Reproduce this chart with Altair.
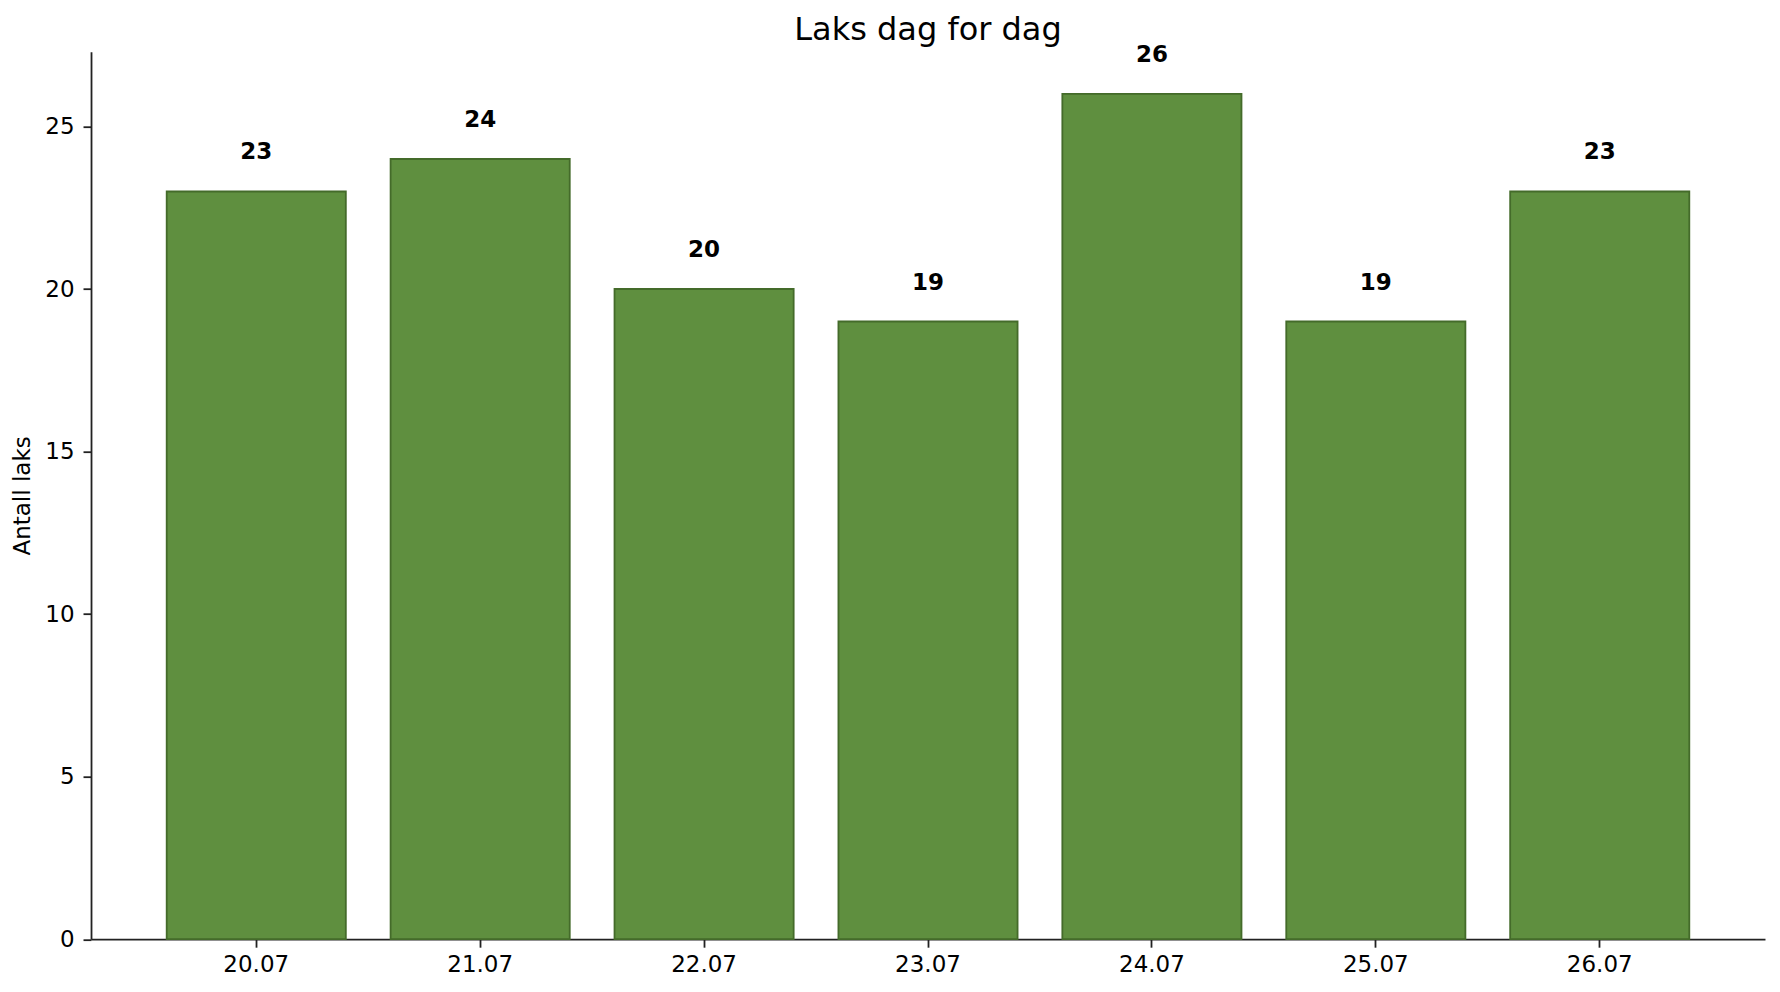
import altair as alt
import pandas as pd

dates = ["20.07", "21.07", "22.07", "23.07", "24.07", "25.07", "26.07"]
counts = [23, 24, 20, 19, 26, 19, 23]
y_ticks = [0, 5, 10, 15, 20, 25]

df = pd.DataFrame({"dato": dates, "antall": counts})

FONT = "DejaVu Sans"

x = alt.X(
    "dato:N",
    sort=dates,
    title=None,
    scale=alt.Scale(paddingInner=0.2, paddingOuter=0.338),
    axis=alt.Axis(
        labelAngle=0,
        labelFont=FONT,
        labelFontSize=23,
        labelColor="black",
        labelPadding=6,
        tickSize=8,
        tickWidth=1.8,
        tickColor="#222222",
        domainColor="#222222",
        domainWidth=1.8,
        grid=False,
    ),
)
y = alt.Y(
    "antall:Q",
    title="Antall laks",
    scale=alt.Scale(domain=[0, 27.3], nice=False, zero=True),
    axis=alt.Axis(
        values=y_ticks,
        labelFont=FONT,
        labelFontSize=23,
        labelColor="black",
        labelPadding=9,
        tickSize=8,
        tickWidth=1.8,
        tickColor="#222222",
        domainColor="#222222",
        domainWidth=1.8,
        grid=False,
        titleFont=FONT,
        titleFontSize=23,
        titleFontWeight="normal",
        titleColor="black",
        titlePadding=10,
    ),
)

bars = alt.Chart(df).mark_bar(
    color="#5f8f3f", stroke="#446b2a", strokeWidth=1.8
).encode(x=x, y=y)

labels = alt.Chart(df).mark_text(
    font=FONT, fontSize=23, fontWeight="bold", color="black",
    baseline="alphabetic", align="center", dy=-32,
).encode(x=alt.X("dato:N", sort=dates), y=alt.Y("antall:Q"), text="antall:Q")

chart = (
    alt.layer(bars, labels)
    .properties(
        width=1674,
        height=887.5,
        padding={"left": 83, "top": 43.7, "right": 7, "bottom": 45},
        autosize=alt.AutoSizeParams(type="none"),
        title=alt.TitleParams(
            "Laks dag for dag",
            font=FONT,
            fontSize=32,
            fontWeight="normal",
            color="black",
            anchor="middle",
            frame="group",
            offset=5,
            dy=8,
        ),
    )
    .configure_view(stroke=None)
)

chart.save("out.html", embed_options={"renderer": "svg", "actions": False})
